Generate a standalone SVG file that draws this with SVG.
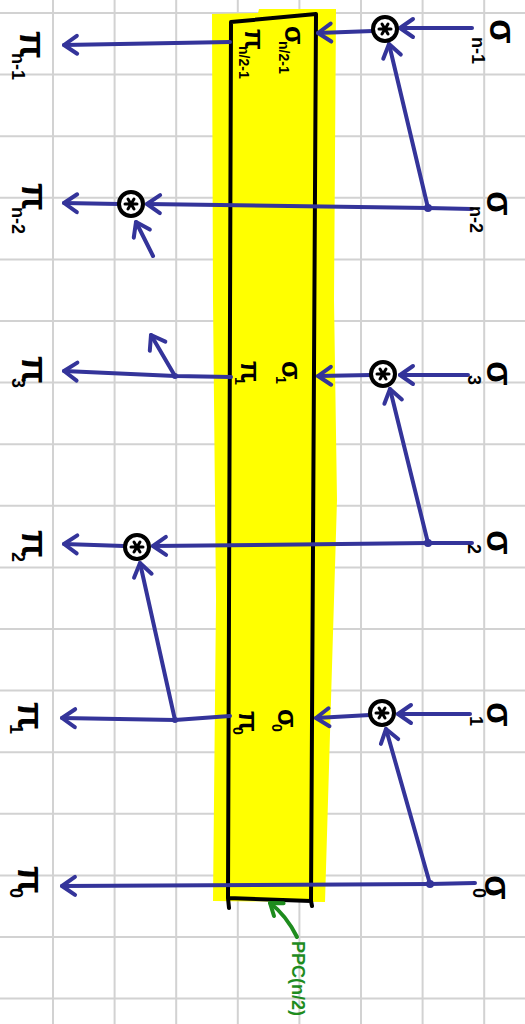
<svg xmlns="http://www.w3.org/2000/svg" width="525" height="1024" viewBox="0 0 525 1024">
<style>
.grid{stroke:#d2d2d2;stroke-width:2;fill:none}
.e{stroke:#34349a;stroke-width:4;fill:none;stroke-linecap:round;stroke-linejoin:round;marker-end:url(#ah)}
.dot{fill:#34349a}
.lbl{font-family:"Liberation Sans",Arial,sans-serif;font-weight:bold;fill:#000}
.big{font-size:36px}
.sub{font-size:18px}
.in{font-size:27px}
.isub{font-size:14px}
.box{stroke:#000;stroke-width:4;fill:none;stroke-linejoin:round;stroke-linecap:round}
.opc{stroke:#000;stroke-width:4;fill:#fff}
.ast{stroke:#000;stroke-width:3;stroke-linecap:round}
</style>
<defs>
<marker id="ah" markerUnits="userSpaceOnUse" orient="auto" markerWidth="1" markerHeight="1" overflow="visible">
<path d="M-13,-9 L0,0 L-13,9" fill="none" stroke="#34349a" stroke-width="4" stroke-linecap="round" stroke-linejoin="round"/>
</marker>
<marker id="ahg" markerUnits="userSpaceOnUse" orient="auto" markerWidth="1" markerHeight="1" overflow="visible">
<path d="M-11,-8 L0,0 L-11,8" fill="none" stroke="#1e8c1e" stroke-width="4" stroke-linecap="round" stroke-linejoin="round"/>
</marker>
<g id="op">
<circle r="12" class="opc"/>
<path class="ast" d="M-6,0 L6,0 M-3,-5 L3,5 M3,-5 L-3,5"/>
</g>
</defs>
<rect width="525" height="1024" fill="#fff"/>
<path class="grid" d="M53,0V1024 M114.6,0V1024 M176.2,0V1024 M237.8,0V1024 M299.4,0V1024 M361,0V1024 M422.6,0V1024 M484.2,0V1024 M0,13H525 M0,74.6H525 M0,136.2H525 M0,197.8H525 M0,259.4H525 M0,321H525 M0,382.6H525 M0,444.2H525 M0,505.8H525 M0,567.4H525 M0,629H525 M0,690.6H525 M0,752.2H525 M0,813.8H525 M0,875.4H525 M0,937H525 M0,998.6H525"/>
<g id="ppc">
<polygon fill="#ffff00" points="212,14 258,13 259,9 336,9 334,300 337,500 331,700 325,902 213,901 216,600 213,300"/>
<path class="box" d="M231,22 L316,14 L311,901 L228,898 Z M228,898 L229,908 M311,901 L312,906"/>
</g>
<g id="connectors">
<path class="e" d="M472,28 L400,28"/>
<path class="e" d="M373,31 L318,33"/>
<path class="e" d="M230,42 L64,45"/>
<path class="e" d="M428,208 L389,44"/>
<path class="e" d="M472,209 L428,208 L147,204"/>
<path class="e" d="M119,204 L64,203"/>
<path class="e" d="M153,256 L136,222"/>
<path class="e" d="M468,375 L400,375"/>
<path class="e" d="M371,375 L318,376"/>
<path class="e" d="M231,377 L175,376 L64,371"/>
<path class="e" d="M175,376 L151,335"/>
<path class="e" d="M428,543 L390,389"/>
<path class="e" d="M472,543 L428,543 L153,546"/>
<path class="e" d="M124,546 L64,544"/>
<path class="e" d="M175,720 L140,563"/>
<path class="e" d="M470,714 L398,714"/>
<path class="e" d="M370,715 L316,718"/>
<path class="e" d="M230,716 L175,720 L62,718"/>
<path class="e" d="M430,884 L386,729"/>
<path class="e" d="M475,883 L430,884 L62,886"/>
<circle class="dot" cx="428" cy="208" r="4"/>
<circle class="dot" cx="428" cy="543" r="4"/>
<circle class="dot" cx="430" cy="884" r="4"/>
<circle class="dot" cx="175" cy="376" r="3"/>
<circle class="dot" cx="175" cy="720" r="3"/>
<path d="M297,937 Q286,915 270,903" fill="none" stroke="#1e8c1e" stroke-width="4" stroke-linecap="round" marker-end="url(#ahg)"/>
</g>
<g id="op-n-1"><use href="#op" x="385" y="29"/></g>
<g id="op-n-2"><use href="#op" x="131" y="204"/></g>
<g id="op-3"><use href="#op" x="383" y="374"/></g>
<g id="op-2"><use href="#op" x="137" y="547"/></g>
<g id="op-1"><use href="#op" x="382" y="713"/></g>
<g id="pi-n-1"><text class="lbl big" transform="translate(20,31) rotate(90)">π<tspan class="sub" x="22" y="8">n-1</tspan></text></g>
<g id="pi-n-2"><text class="lbl big" transform="translate(22,183) rotate(90)">π<tspan class="sub" x="24" y="10">n-2</tspan></text></g>
<g id="pi-3"><text class="lbl big" transform="translate(22,356) rotate(90)">π<tspan class="sub" x="22" y="10">3</tspan></text></g>
<g id="pi-2"><text class="lbl big" transform="translate(22,530) rotate(90)">π<tspan class="sub" x="22" y="10">2</tspan></text></g>
<g id="pi-1"><text class="lbl big" transform="translate(18,702) rotate(90)">π<tspan class="sub" x="22" y="8">1</tspan></text></g>
<g id="pi-0"><text class="lbl big" transform="translate(18,866) rotate(90)">π<tspan class="sub" x="22" y="8">0</tspan></text></g>
<g id="sigma-n-1"><text class="lbl big" transform="translate(490,19) rotate(90)">σ<tspan class="sub" x="18" y="18">n-1</tspan></text></g>
<g id="sigma-n-2"><text class="lbl big" transform="translate(487,191) rotate(90)">σ<tspan class="sub" x="15" y="17">n-2</tspan></text></g>
<g id="sigma-3"><text class="lbl big" transform="translate(487,361) rotate(90)">σ<tspan class="sub" x="14" y="19">3</tspan></text></g>
<g id="sigma-2"><text class="lbl big" transform="translate(487,530) rotate(90)">σ<tspan class="sub" x="14" y="19">2</tspan></text></g>
<g id="sigma-1"><text class="lbl big" transform="translate(487,702) rotate(90)">σ<tspan class="sub" x="14" y="17">1</tspan></text></g>
<g id="sigma-0"><text class="lbl big" transform="translate(485,875) rotate(90)">σ<tspan class="sub" x="13" y="12">0</tspan></text></g>
<g id="in-top"><text class="lbl in" transform="translate(245,29) rotate(90)">π<tspan class="isub" x="17" y="6">n/2-1</tspan></text><text class="lbl in" transform="translate(285,26) rotate(90)">σ<tspan class="isub" x="15" y="6">n/2-1</tspan></text></g>
<g id="in-1"><text class="lbl in" transform="translate(241,361) rotate(90)">π<tspan class="isub" x="16" y="6">1</tspan></text><text class="lbl in" transform="translate(282,361) rotate(90)">σ<tspan class="isub" x="15" y="6">1</tspan></text></g>
<g id="in-0"><text class="lbl in" transform="translate(239,711) rotate(90)">π<tspan class="isub" x="16" y="6">0</tspan></text><text class="lbl in" transform="translate(278,709) rotate(90)">σ<tspan class="isub" x="15" y="6">0</tspan></text></g>
<g id="ppc-label"><text transform="translate(292,941) rotate(90)" font-family="Liberation Sans,Arial,sans-serif" font-weight="bold" font-size="18" fill="#1e8c1e">PPC(n/2)</text></g>
</svg>
